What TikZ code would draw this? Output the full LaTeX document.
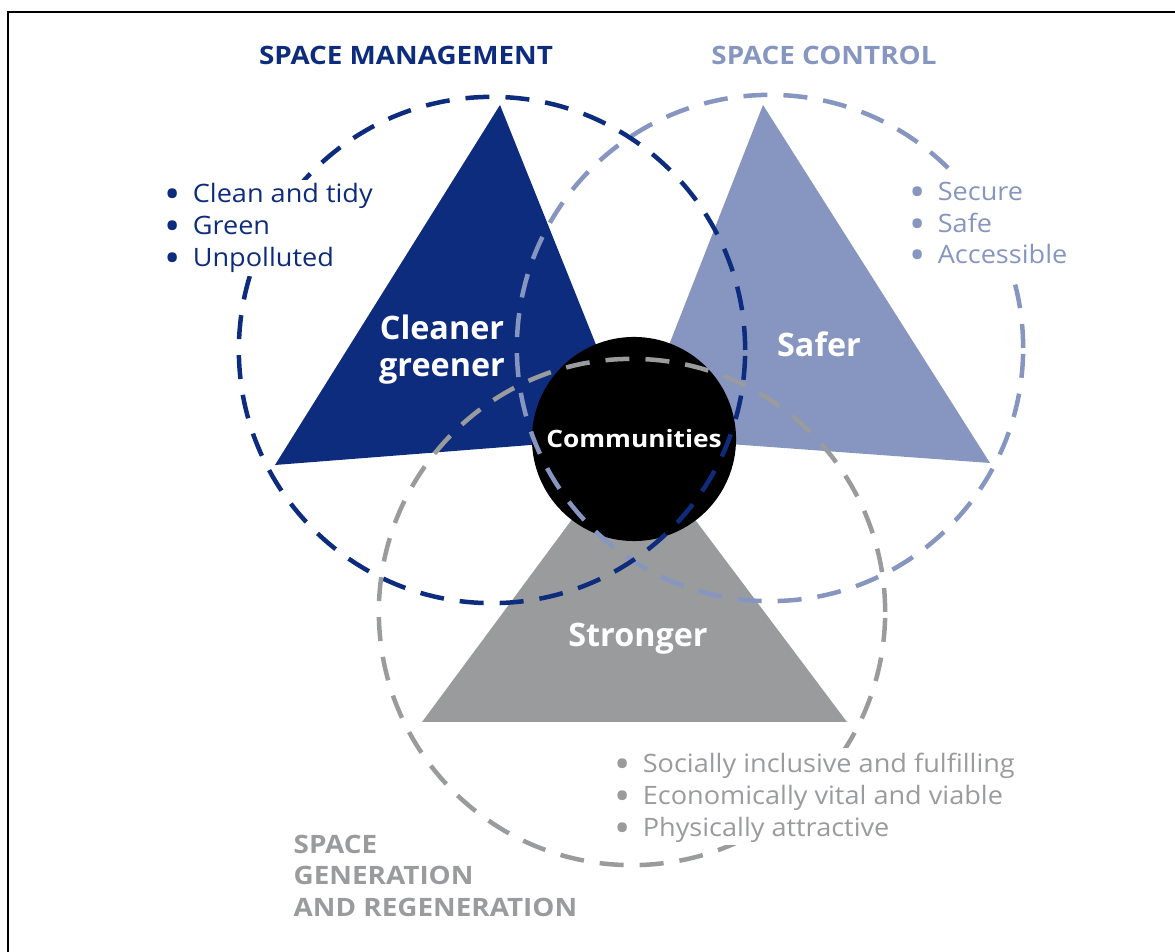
\documentclass[tikz,border=0pt]{standalone}
\usepackage{fontspec}
\setmainfont{Open Sans}
\newfontfamily\headfont[FakeStretch=1.1]{Open Sans}
\newfontfamily\listfont[FakeStretch=1.07]{Open Sans}
\usetikzlibrary{positioning}
\definecolor{mgblue}{RGB}{14,44,126}
\definecolor{ctblue}{RGB}{135,150,192}
\definecolor{gngray}{RGB}{154,155,157}
\newcommand{\blt}{\makebox[8pt][l]{\raisebox{-1.5pt}[0pt][0pt]{\scalebox{1.6}{\textbullet}}}}

\begin{document}
\begin{tikzpicture}[x=0.01cm, y=-0.01cm]
\tikzstyle{ring} = [circle, draw, line width=0.045cm, dash pattern=on 0.24cm off 0.16cm, minimum size=5.06cm, inner sep=0pt]
\tikzstyle{head} = [font=\headfont\bfseries\fontsize{7.2}{9}\selectfont, inner sep=0pt, text height=5.3pt, text depth=0.3pt]
\tikzstyle{item} = [anchor=base west, inner sep=0pt, font=\listfont\fontsize{7.2}{9}\selectfont, text height=5.6pt, text depth=1.6pt]
\tikzstyle{big} = [text=white, font=\bfseries\fontsize{9.2}{11}\selectfont, inner sep=0pt, anchor=base, text height=7pt, text depth=2pt]
\useasboundingbox (0,0) rectangle (1175,952);
% frame
\draw[line width=0.5pt] (8,952) -- (8,12) -- (1175,12);
% triangles
\fill[mgblue] (500,105) -- (275,465) -- (633,437) -- cycle;
\fill[ctblue] (763,105) -- (990,463) -- (633,437) -- cycle;
\fill[gngray] (422,722) -- (847,722) -- (633,437) -- cycle;
\node (comm) [circle, fill=black, minimum size=2.04cm, inner sep=0pt, text=white, font=\headfont\bfseries\fontsize{6.8}{8}\selectfont] at (634,439) {Communities};
% dashed rings
\node (ctrl) [ring, draw=ctblue] at (770,348) {};
\node (mgmt) [ring, draw=mgblue] at (492,350) {};
\node (gen) [ring, draw=gngray] at (632,612) {};
% white patches behind the lists
\fill[white] (160,180) rectangle (380,276);
\fill[white] (905,177) rectangle (1068,272);
\fill[white] (610,748) rectangle (1025,845);
% headings
\node (mghead) [head, text=mgblue, anchor=base] at (406,65) {SPACE MANAGEMENT};
\node (cthead) [head, text=ctblue, anchor=base] at (824,65) {SPACE CONTROL};
\node (gnhead1) [head, text=gngray, anchor=base west] at (293,854) {SPACE};
\node (gnhead2) [head, text=gngray, anchor=base west] at (293,885) {GENERATION};
\node (gnhead3) [head, text=gngray, anchor=base west] at (293,917) {AND REGENERATION};
% lists
\node (mg1) [item, text=mgblue] at (164,203) {\blt Clean and tidy};
\node (mg2) [item, text=mgblue] at (164,235) {\blt Green};
\node (mg3) [item, text=mgblue] at (164,267) {\blt Unpolluted};
\node (ct1) [item, text=ctblue] at (909,201) {\blt Secure};
\node (ct2) [item, text=ctblue] at (909,233) {\blt Safe};
\node (ct3) [item, text=ctblue] at (909,264) {\blt Accessible};
\node (gn1) [item, text=gngray] at (614,773) {\blt Socially inclusive and fulfilling};
\node (gn2) [item, text=gngray] at (614,805) {\blt Economically vital and viable};
\node (gn3) [item, text=gngray] at (614,837) {\blt Physically attractive};
% triangle labels
\node (clean1) [big] at (442,340) {Cleaner};
\node (clean2) [big] at (442,377) {greener};
\node (safer) [big] at (819,357) {Safer};
\node (strong) [big] at (638,647) {Stronger};
\end{tikzpicture}
\end{document}
